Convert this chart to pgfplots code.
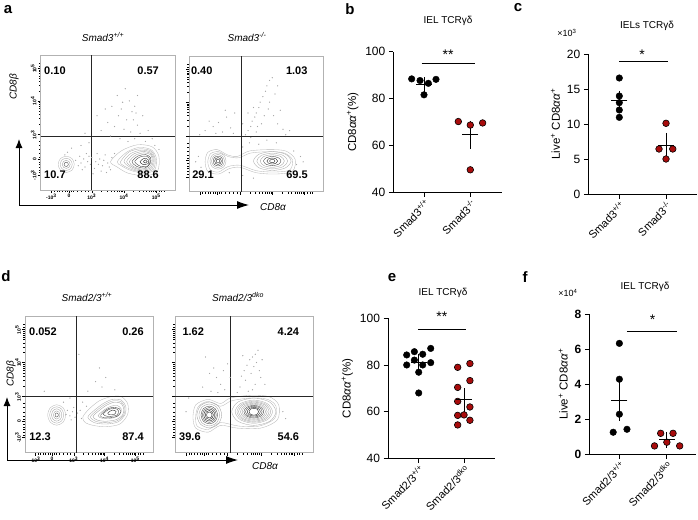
\documentclass[border=0pt]{standalone}
\usepackage{pgfplots}
\pgfplotsset{compat=1.18}
\usepackage{fontspec}
\setmainfont{Liberation Sans}
\usetikzlibrary{arrows.meta}
\definecolor{dred}{RGB}{168,12,12}
\tikzset{qnum/.style={font=\fontsize{11}{13}\selectfont\bfseries}}
\pgfplotsset{
 flow/.style={scale only axis, anchor=south west, xmin=0,xmax=100,ymin=0,ymax=100,
   axis line style={gray!60, line width=0.6pt},
   xtick={8,21,38,62,86}, ytick={11,23,41,66,90},
   minor xtick={10,12,14,16,18,19.5,22.5,24,27,30,33,35.5,45.2,49.5,52.4,54.8,56.7,58.3,59.7,60.9,69.2,73.5,76.4,78.8,80.7,82.3,83.7,84.9,88,90,92},
   minor ytick={13,15,17,19,21,24.5,27,30,33,36,48.5,52.9,56.1,58.5,60.5,62.1,63.6,64.8,73.2,77.5,80.4,82.8,84.7,86.3,87.7,88.9,92,94},
   xtick pos=bottom, ytick pos=left, tick align=outside,
   major tick length=3pt, minor tick length=1.8pt,
   tick style={black, line width=0.4pt}, minor tick style={black, line width=0.3pt},
   xticklabels={}, yticklabels={},
   tick label style={font=\fontsize{5}{6}\selectfont\bfseries, inner sep=1pt},
   y tick label style={rotate=90, anchor=south},
 },
 flowlab/.style={
   xticklabels={{-10\textsuperscript{3}},0,{10\textsuperscript{3}},{10\textsuperscript{4}},{10\textsuperscript{5}}},
   yticklabels={{-10\textsuperscript{3}},0,{10\textsuperscript{3}},{10\textsuperscript{4}},{10\textsuperscript{5}}}},
 qline/.style={black!85, line width=0.7pt},
 c1/.style={gray!55, line width=0.35pt, smooth cycle},
 c2/.style={gray!65, line width=0.35pt, smooth cycle},
 c3/.style={gray!75, line width=0.35pt, smooth cycle},
 c4/.style={black!75, line width=0.35pt, smooth cycle},
 c5/.style={black!85, line width=0.4pt, smooth cycle},
 sc/.style={only marks, mark=*, mark size=0.35pt, gray!70},
 dotp/.style={scale only axis, anchor=south west, axis x line*=bottom, axis y line*=left,
   axis line style={black, line width=0.9pt},
   xtick={0,1}, tick align=outside, major tick length=4.5pt,
   tick style={black, line width=0.9pt}, clip=false,
   /pgf/number format/assume math mode=true,
   y tick label style={font=\fontsize{12}{14}\selectfont},
   x tick label style={rotate=45, anchor=north east, font=\fontsize{11}{13}\selectfont, inner sep=1pt},
   ylabel style={font=\fontsize{11.5}{13}\selectfont},
 },
 bdot/.style={only marks, mark=*, mark size=3.3pt, mark options={fill=black, draw=black}},
 rdot/.style={only marks, mark=*, mark size=3.3pt, mark options={fill=dred, draw=black, line width=0.6pt}},
 sig/.style={black, line width=0.8pt},
 meanbar/.style={black, only marks, mark=-, mark size=8pt, mark options={line width=1pt},
   error bars/.cd, y dir=both, y explicit, error mark=-,
   error mark options={black, mark size=4.5pt, line width=1pt},
   error bar style={black, line width=1pt}},
}
\begin{document}
\begin{tikzpicture}
\path[use as bounding box] (0,0) rectangle (698pt,-519pt);
% panel letters
\node[font=\fontsize{15}{17}\selectfont\bfseries] at (8pt,-10pt) {a};
\node[font=\fontsize{15}{17}\selectfont\bfseries] at (350pt,-9pt) {b};
\node[font=\fontsize{15}{17}\selectfont\bfseries] at (518pt,-8pt) {c};
\node[font=\fontsize{15}{17}\selectfont\bfseries] at (6pt,-276pt) {d};
\node[font=\fontsize{15}{17}\selectfont\bfseries] at (392pt,-278pt) {e};
\node[font=\fontsize{15}{17}\selectfont\bfseries] at (525pt,-277pt) {f};
% flow titles
\node[font=\fontsize{10}{12}\selectfont\itshape] at (103pt,-37pt) {Smad3\textsuperscript{+/+}};
\node[font=\fontsize{10}{12}\selectfont\itshape] at (247pt,-37pt) {Smad3\textsuperscript{-/-}};
\node[font=\fontsize{10}{12}\selectfont\itshape] at (87pt,-297pt) {Smad2/3\textsuperscript{+/+}};
\node[font=\fontsize{10}{12}\selectfont\itshape] at (238pt,-297pt) {Smad2/3\textsuperscript{dko}};
% arrows
\draw[line width=1pt, -{Latex[length=9pt,width=7pt]}] (19pt,-205pt) -- (19pt,-139pt);
\draw[line width=1pt, -{Latex[length=12pt,width=8pt]}] (19pt,-205pt) -- (249pt,-205pt);
\node[font=\fontsize{10}{12}\selectfont\itshape] at (273pt,-207pt) {CD8α};
\node[font=\fontsize{10}{12}\selectfont\itshape, rotate=90] at (14pt,-87pt) {CD8β};
\draw[line width=1pt, -{Latex[length=9pt,width=7pt]}] (7pt,-460pt) -- (7pt,-397pt);
\draw[line width=1pt, -{Latex[length=12pt,width=8pt]}] (7pt,-460pt) -- (238pt,-460pt);
\node[font=\fontsize{10}{12}\selectfont\itshape] at (265pt,-466pt) {CD8α};
\node[font=\fontsize{10}{12}\selectfont\itshape, rotate=90] at (11pt,-374pt) {CD8β};
% dot-plot titles
\node[font=\fontsize{10}{12}\selectfont] at (448pt,-21pt) {IEL TCRγδ};
\node[font=\fontsize{10}{12}\selectfont] at (647pt,-26pt) {IELs TCRγδ};
\node[font=\fontsize{9}{11}\selectfont] at (567pt,-33pt) {×10\textsuperscript{3}};
\node[font=\fontsize{10}{12}\selectfont] at (443pt,-293pt) {IEL TCRγδ};
\node[font=\fontsize{10}{12}\selectfont] at (645pt,-287pt) {IEL TCRγδ};
\node[font=\fontsize{9}{11}\selectfont] at (568pt,-293pt) {×10\textsuperscript{4}};

%================ a left
\begin{axis}[flow, flowlab, at={(40.7pt,-190pt)}, width=134.3pt, height=135pt]
\addplot[sc] coordinates {(26,22)(28,18)(30,20)(32,23)(33,17)(35,21)(37,19)(38,24)(40,16)(41,21)(43,19)(44,23)(46,18)(47,22)(48,26)(50,20)(51,17)(53,24)(34,27)(29,25)(42,27)(45,14)(39,12)(55,27)(49,13)(31,15)(36,25)(52,15)
(20,28)(23,31)(18,26)(30,33)(36,35)(33,42)(45,44)(50,50)(55,47)(58,55)(60,60)(64,52)(66,66)(68,58)(70,62)(72,70)(62,45)(67,43)(72,48)(74,42)(76,55)(63,75)(57,70)(48,60)(80,44)(83,38)(78,36)(85,33)(88,30)(59,38)(65,36)(70,38)(52,40)(42,55)(53,62)(69,52)(71,57)(61,65)};
\addplot[c1] coordinates {(25,19)(23.3,23.3)(19,25)(14.7,23.3)(13,19)(14.7,14.7)(19,13)(23.3,14.7)};
\addplot[c2] coordinates {(23.5,19)(22.2,22.2)(19,23.5)(15.8,22.2)(14.5,19)(15.8,15.8)(19,14.5)(22.2,15.8)};
\addplot[c3] coordinates {(22,19)(21.1,21.1)(19,22)(16.9,21.1)(16,19)(16.9,16.9)(19,16)(21.1,16.9)};
\addplot[c4] coordinates {(20.6,19)(20.1,20.1)(19,20.6)(17.9,20.1)(17.4,19)(17.9,17.9)(19,17.4)(20.1,17.9)};
\addplot[c1] coordinates {(52,21)(60,29)(72,33.5)(83,32)(88,25)(87,14)(78,10.5)(65,12.5)(57,17)};
\addplot[c1] coordinates {(57,21)(64,28)(73,31.5)(82,30)(86,24)(85,15)(77,12.5)(67,14.5)(60,18)};
\addplot[c2] coordinates {(59.5,21)(65.5,28)(74,30.5)(82,29)(85.2,23.5)(84,15.5)(76.5,13.2)(67.5,15.2)(61,18.5)};
\addplot[c2] coordinates {(62,21)(67,27)(75,29.5)(82,28)(84.5,23)(83,16)(76,14)(68,16)};
\addplot[c3] coordinates {(64,21)(69,26.5)(76,28.5)(82,27)(83.8,22.3)(82,16.5)(75.5,14.8)(68.5,16.8)};
\addplot[c3] coordinates {(66,21)(71,26)(77,27.5)(82,26)(83,21.5)(81,17)(75,15.5)(69,17.5)};
\addplot[c4] coordinates {(68,21)(72.5,25.2)(78,26.2)(81.8,24)(81.5,19.5)(77.5,16.3)(71.5,17.5)};
\addplot[c4] coordinates {(70,21)(74,24.5)(79,25)(81.5,22)(80,18)(74.5,17.5)};
\addplot[c5] coordinates {(74,21)(77,23.5)(80,22.5)(80,19.5)(76,19)};
\addplot[c5] coordinates {(76.5,21)(78,22.3)(79.3,21)(78,20)};
\addplot[qline] coordinates {(38,0)(38,100)};
\addplot[qline] coordinates {(0,39.5)(100,39.5)};
\node[qnum] at (axis cs:10.6,88) {0.10};
\node[qnum] at (axis cs:80,88) {0.57};
\node[qnum] at (axis cs:10.6,11) {10.7};
\node[qnum] at (axis cs:80,11) {88.6};
\end{axis}

%================ a right
\begin{axis}[flow, at={(189pt,-191.7pt)}, width=134.3pt, height=135.7pt]
\addplot[sc] coordinates {(42,42)(44,45)(46,48)(47,52)(49,55)(50,58)(52,62)(53,66)(55,70)(57,74)(58,78)(60,82)(62,84)(46,40)(50,44)(54,50)(56,56)(59,61)(60,66)(64,72)(66,78)(51,48)(48,62)(44,58)(63,56)(66,50)(70,46)(72,42)(68,60)(75,45)(40,50)
(8,42)(12,45)(18,48)(22,51)(25,44)(28,55)(31,47)(34,58)(33,43)(27,60)(20,43)(15,52)
(78,30)(80,20)(83,26)(45,36)(52,35)(58,38)(40,33)(65,36)(85,22)(5,22)(7,26)(9,18)(30,14)(40,12)(48,10)};
\addplot[c1] coordinates {(12,22)(14,29)(21,31)(29,27)(36,26)(45,30)(60,31)(72,30)(79,24)(77,15)(64,13)(50,14)(38,18)(30,17)(22,13)(14,15)};
\addplot[c1] coordinates {(14,22)(16,28)(22,29.5)(29,26)(37,25)(46,28.5)(60,29.5)(71,28.5)(77,23.5)(75,16)(63,14.5)(50,15.5)(38,19.5)(29,18.5)(22,14.5)(16,16)};
\addplot[c2] coordinates {(27.6,22.6)(25.9,26.9)(21.6,28.6)(17.3,26.9)(15.6,22.6)(17.3,18.3)(21.6,16.6)(25.9,18.3)};
\addplot[c3] coordinates {(26.4,22.6)(25,26)(21.6,27.4)(18.2,26)(16.8,22.6)(18.2,19.2)(21.6,17.8)(25,19.2)};
\addplot[c4] coordinates {(25.2,22.6)(24.2,25.2)(21.6,26.2)(19,25.2)(18,22.6)(19,20)(21.6,19)(24.2,20)};
\addplot[c5] coordinates {(24.1,22.6)(23.4,24.4)(21.6,25.1)(19.8,24.4)(19.1,22.6)(19.8,20.8)(21.6,20.1)(23.4,20.8)};
\addplot[c5] coordinates {(23,22.6)(22.6,23.6)(21.6,24)(20.6,23.6)(20.2,22.6)(20.6,21.6)(21.6,21.2)(22.6,21.6)};
\addplot[c2] coordinates {(76,22.6)(71.9,27.6)(62,29.6)(52.1,27.6)(48,22.6)(52.1,17.6)(62,15.6)(71.9,17.6)};
\addplot[c2] coordinates {(73.5,22.6)(70.2,26.7)(62,28.4)(53.8,26.7)(50.5,22.6)(53.8,18.5)(62,16.8)(70.2,18.5)};
\addplot[c3] coordinates {(71,22.6)(68.4,25.9)(62,27.2)(55.6,25.9)(53,22.6)(55.6,19.3)(62,18)(68.4,19.3)};
\addplot[c4] coordinates {(68.5,22.6)(66.6,25)(62,26)(57.4,25)(55.5,22.6)(57.4,20.2)(62,19.2)(66.6,20.2)};
\addplot[c5] coordinates {(66,22.6)(64.8,24.2)(62,24.8)(59.2,24.2)(58,22.6)(59.2,21)(62,20.4)(64.8,21)};
\addplot[c5] coordinates {(64,22.6)(63.4,23.5)(62,23.8)(60.6,23.5)(60,22.6)(60.6,21.7)(62,21.4)(63.4,21.7)};
\addplot[qline] coordinates {(38.7,0)(38.7,100)};
\addplot[qline] coordinates {(0,40.5)(100,40.5)};
\node[qnum] at (axis cs:9.5,89) {0.40};
\node[qnum] at (axis cs:80.2,89) {1.03};
\node[qnum] at (axis cs:10.4,12.3) {29.1};
\node[qnum] at (axis cs:80.4,12.3) {69.5};
\end{axis}

%================ d left
\begin{axis}[flow, flowlab, at={(25pt,-452.7pt)}, width=128.3pt, height=136.7pt]
\addplot[sc] coordinates {(32,28)(35,27)(37,30)(39,26)(41,29)(43,31)(36,24)(33,31)(42,72)(55,52)(60,48)(49,45)(63,55)(35,40)(15,45)(58,62)(70,46)(45,37)(48,34)(30,37)(44,25)(38,33)};
\addplot[c1] coordinates {(31.7,27.6)(29.7,32.9)(24.7,35.1)(19.7,32.9)(17.7,27.6)(19.7,22.3)(24.7,20.1)(29.7,22.3)};
\addplot[c2] coordinates {(30.2,27.6)(28.6,31.9)(24.7,33.6)(20.8,31.9)(19.2,27.6)(20.8,23.3)(24.7,21.6)(28.6,23.3)};
\addplot[c3] coordinates {(28.7,27.6)(27.5,30.8)(24.7,32.1)(21.9,30.8)(20.7,27.6)(21.9,24.4)(24.7,23.1)(27.5,24.4)};
\addplot[c3] coordinates {(27.3,27.6)(26.5,29.7)(24.7,30.6)(22.9,29.7)(22.1,27.6)(22.9,25.5)(24.7,24.6)(26.5,25.5)};
\addplot[c4] coordinates {(26,27.6)(25.6,28.7)(24.7,29.1)(23.8,28.7)(23.4,27.6)(23.8,26.5)(24.7,26.1)(25.6,26.5)};
\addplot[c1] coordinates {(45,26)(50,32)(58,38)(67,41)(75,41)(80,36)(80,28)(74,21)(63,19)(53,20)(47,22)};
\addplot[c2] coordinates {(49,26)(54,31)(61,36)(68,39)(75,38.5)(78.5,34)(78,28)(72.5,22.5)(63,21)(54,22)};
\addplot[c2] coordinates {(51,26.2)(56,31)(62.5,35.5)(69,38)(75,37.2)(77.8,33)(77,27.7)(71.5,23.2)(62.5,22)(55,23)};
\addplot[c3] coordinates {(53,26.5)(58,31)(64,35)(70,37)(75,36)(77,32)(76,27.5)(70.5,24)(62,23)(56,24)};
\addplot[c3] coordinates {(57,27)(62,31.5)(67,34)(72,34.5)(75,32)(74,28)(69,25.5)(61,25)};
\addplot[c4] coordinates {(59,27.5)(63.5,31.5)(68.5,33.2)(73.5,32.2)(74.5,29.5)(71.5,26.5)(65,25.7)(60,26)};
\addplot[c4] coordinates {(61,28)(65,31.5)(70,32.5)(73,30.5)(71.5,27.5)(65,26.5)};
\addplot[c5] coordinates {(64.5,29)(68,31.2)(71,30.2)(69.5,28)(66,27.8)};
\addplot[qline] coordinates {(40.3,0)(40.3,100)};
\addplot[qline] coordinates {(0,41.5)(100,41.5)};
\node[qnum] at (axis cs:14,88.5) {0.052};
\node[qnum] at (axis cs:84.2,88.5) {0.26};
\node[qnum] at (axis cs:11.7,11.7) {12.3};
\node[qnum] at (axis cs:84.2,11.7) {87.4};
\end{axis}

%================ d right
\begin{axis}[flow, at={(175pt,-452.7pt)}, width=138.3pt, height=136.7pt]
\addplot[sc] coordinates {(48,56)(50,60)(52,64)(54,68)(56,70)(58,72)(60,75)(51,53)(55,58)(57,63)(59,66)(53,45)(58,50)(62,55)(47,48)(45,44)(61,60)(63,68)(56,46)(49,71)(65,50)
(22,70)(25,58)(28,62)(30,55)(33,50)(35,60)(38,65)(26,45)(20,48)(31,44)(36,46)(40,55)(78,30)(80,25)(10,40)(8,30)};
\addplot[c1] coordinates {(13,26)(15,35)(24,39)(33,36)(40,40)(55,42)(68,41)(75,35)(74,24)(62,18)(45,18)(33,20)(24,15)(15,18)};
\addplot[c1] coordinates {(15,27)(17,34)(24,37.5)(33,34)(41,38)(55,40)(67,39)(73,34)(72,25)(61,19.5)(46,19.5)(33,22)(24,17)(16,19.5)};
\addplot[c3] coordinates {(33.8,27.6)(31.2,34.3)(24.8,37.1)(18.4,34.3)(15.8,27.6)(18.4,20.9)(24.8,18.1)(31.2,20.9)};
\addplot[c3] coordinates {(32.3,27.6)(30.1,33.3)(24.8,35.6)(19.5,33.3)(17.3,27.6)(19.5,21.9)(24.8,19.6)(30.1,21.9)};
\addplot[c4] coordinates {(30.8,27.6)(29.1,32.2)(24.8,34.1)(20.5,32.2)(18.8,27.6)(20.5,23)(24.8,21.1)(29.1,23)};
\addplot[c4] coordinates {(29.8,27.6)(28.4,31.4)(24.8,33)(21.2,31.4)(19.8,27.6)(21.2,23.8)(24.8,22.2)(28.4,23.8)};
\addplot[c5] coordinates {(28.8,27.6)(27.6,30.7)(24.8,32)(22,30.7)(20.8,27.6)(22,24.5)(24.8,23.2)(27.6,24.5)};
\addplot[c5] coordinates {(27.8,27.6)(26.9,29.9)(24.8,30.9)(22.7,29.9)(21.8,27.6)(22.7,25.3)(24.8,24.3)(26.9,25.3)};
\addplot[c5] coordinates {(26.8,27.6)(26.2,29.2)(24.8,29.8)(23.4,29.2)(22.8,27.6)(23.4,26)(24.8,25.4)(26.2,26)};
\addplot[c2] coordinates {(73,30)(68.4,37.1)(57,40)(45.6,37.1)(41,30)(45.6,22.9)(57,20)(68.4,22.9)};
\addplot[c2] coordinates {(70.5,30)(66.6,36)(57,38.5)(47.4,36)(43.5,30)(47.4,24)(57,21.5)(66.6,24)};
\addplot[c2] coordinates {(69.2,30)(65.6,35.5)(57,37.7)(48.4,35.5)(44.8,30)(48.4,24.5)(57,22.3)(65.6,24.5)};
\addplot[c3] coordinates {(68,30)(64.8,35)(57,37)(49.2,35)(46,30)(49.2,25)(57,23)(64.8,25)};
\addplot[c3] coordinates {(66.7,30)(63.9,34.4)(57,36.2)(50.1,34.4)(47.3,30)(50.1,25.6)(57,23.8)(63.9,25.6)};
\addplot[c3] coordinates {(65.5,30)(63,33.9)(57,35.5)(51,33.9)(48.5,30)(51,26.1)(57,24.5)(63,26.1)};
\addplot[c4] coordinates {(64.2,30)(62.1,33.3)(57,34.7)(51.9,33.3)(49.8,30)(51.9,26.7)(57,25.3)(62.1,26.7)};
\addplot[c4] coordinates {(63,30)(61.3,32.8)(57,34)(52.7,32.8)(51,30)(52.7,27.2)(57,26)(61.3,27.2)};
\addplot[c5] coordinates {(61.7,30)(60.3,32.3)(57,33.2)(53.7,32.3)(52.3,30)(53.7,27.7)(57,26.8)(60.3,27.7)};
\addplot[c5] coordinates {(60.5,30)(59.5,31.8)(57,32.5)(54.5,31.8)(53.5,30)(54.5,28.2)(57,27.5)(59.5,28.2)};
\addplot[qline] coordinates {(39.8,0)(39.8,100)};
\addplot[qline] coordinates {(0,41.5)(100,41.5)};
\node[qnum] at (axis cs:13.2,88.5) {1.62};
\node[qnum] at (axis cs:82,88.5) {4.24};
\node[qnum] at (axis cs:10.8,11.7) {39.6};
\node[qnum] at (axis cs:82,11.7) {54.6};
\end{axis}

%================ b
\begin{axis}[dotp, at={(393.3pt,-192.3pt)}, width=108.4pt, height=140.6pt,
  xmin=-0.663, xmax=1.678, ymin=40, ymax=100, ytick={40,60,80,100},
  xticklabels={Smad3\textsuperscript{+/+}, Smad3\textsuperscript{-/-}},
  ylabel={CD8\textit{αα}\textsuperscript{+}(\%)}]
\addplot[bdot] coordinates {(-0.266,88.4)(-0.086,87.7)(0.094,86.5)(0.259,88.2)(0,81.6)};
\addplot[rdot] coordinates {(0.741,70.2)(1,68.7)(1.266,69.6)(1,49.6)};
\addplot[sig] coordinates {(-0.05,95.1)(1.1,95.1)};
\node[font=\fontsize{14}{16}\selectfont] at (axis cs:0.52,98.7) {**};
\addplot[meanbar] coordinates {(0,85.9) +- (0,1.2) (1,64.5) +- (0,4.1)};
\end{axis}

%================ c
\begin{axis}[dotp, at={(588.3pt,-194pt)}, width=108.4pt, height=140pt,
  xmin=-0.664, xmax=1.657, ymin=0, ymax=20, ytick={0,5,10,15,20},
  xticklabels={Smad3\textsuperscript{+/+}, Smad3\textsuperscript{-/-}},
  ylabel={Live\textsuperscript{+} CD8\textit{αα}\textsuperscript{+}}]
\addplot[bdot] coordinates {(0,16.57)(0,14.0)(0,13.05)(0,12.0)(0,10.95)};
\addplot[rdot] coordinates {(1,10.1)(0.85,6.43)(1.144,6.43)(1,5.0)};
\addplot[sig] coordinates {(0,18.9)(1.04,18.9)};
\node[font=\fontsize{14}{16}\selectfont] at (axis cs:0.49,19.9) {*};
\addplot[meanbar] coordinates {(0,13.3) +- (0,0.8) (1,7.0) +- (0,1.1)};
\end{axis}

%================ e
\begin{axis}[dotp, at={(388pt,-458.3pt)}, width=107pt, height=140pt,
  xmin=-0.678, xmax=1.684, ymin=40, ymax=100, ytick={40,60,80,100},
  xticklabels={Smad2/3\textsuperscript{+/+}, Smad2/3\textsuperscript{dko}},
  ylabel={CD8\textit{αα}\textsuperscript{+}(\%)}]
\addplot[bdot] coordinates {(-0.265,84.3)(-0.096,85.7)(0.088,84.6)(0.265,87.1)(-0.265,80)(-0.096,82.1)(0.088,80)(0.265,81)(0,76.9)(0,68)};
\addplot[rdot] coordinates {(0.86,79)(1.13,80.6)(1.13,73.3)(0.86,70.4)(0.86,64.4)(1.13,62)(1.0,58.6)(0.86,58.4)(1.13,56.3)(0.86,54.3)};
\addplot[sig] coordinates {(-0.02,95.3)(1.04,95.3)};
\node[font=\fontsize{14}{16}\selectfont] at (axis cs:0.51,100.9) {**};
\addplot[meanbar] coordinates {(0,81.0) +- (0,1.9) (1,65.0) +- (0,3.2)};
\end{axis}

%================ f
\begin{axis}[dotp, at={(589.3pt,-454.3pt)}, width=107pt, height=140pt,
  xmin=-0.633, xmax=1.62, ymin=0, ymax=8, ytick={0,2,4,6,8},
  y tick label style={font=\fontsize{12}{14}\selectfont\bfseries},
  xticklabels={Smad2/3\textsuperscript{+/+}, Smad2/3\textsuperscript{dko}},
  ylabel={Live\textsuperscript{+} CD8\textit{αα}\textsuperscript{+}}]
\addplot[bdot] coordinates {(0,6.34)(0,4.29)(0,2.29)(-0.13,1.26)(0.16,1.43)};
\addplot[rdot] coordinates {(0.87,1.2)(1.13,1.2)(1.0,0.69)(0.74,0.48)(1.27,0.48)};
\addplot[sig] coordinates {(0.16,7.03)(1.22,7.03)};
\node[font=\fontsize{14}{16}\selectfont] at (axis cs:0.70,7.69) {*};
\addplot[meanbar] coordinates {(0,3.1) +- (0,0.93) (1,0.82) +- (0,0.2)};
\end{axis}
\end{tikzpicture}
\end{document}
